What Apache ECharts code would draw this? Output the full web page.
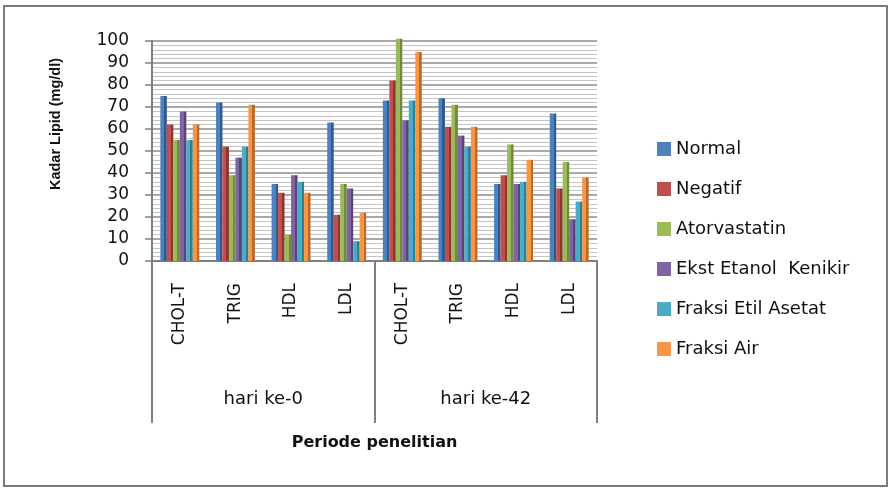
<!DOCTYPE html>
<html>
<head>
<meta charset="utf-8">
<script src="https://cdn.jsdelivr.net/npm/echarts@6/dist/echarts.min.js"></script>
<style>
html,body{margin:0;padding:0;background:#fff;}
#c{position:absolute;left:0;top:0;width:892px;height:494px;}
#frame{position:absolute;left:3px;top:5px;width:881px;height:478px;border:2px solid #7a7a7a;pointer-events:none;}
</style>
</head>
<body>
<div id="c"></div>
<div id="frame"></div>
<script>
var categories = ['CHOL-T','TRIG','HDL','LDL','CHOL-T','TRIG','HDL','LDL'];
var groups = ['hari ke-0','hari ke-42'];
var seriesNames = ['Normal','Negatif','Atorvastatin','Ekst Etanol  Kenikir','Fraksi Etil Asetat','Fraksi Air'];
var normal       = [75, 72, 35, 63, 73, 74, 35, 67];
var negatif      = [62, 52, 31, 21, 82, 61, 39, 33];
var atorvastatin = [55, 39, 12, 35, 101, 71, 53, 45];
var ekstEtanol   = [68, 47, 39, 33, 64, 57, 35, 19];
var fraksiEtil   = [55, 52, 36, 9, 73, 52, 36, 27];
var fraksiAir    = [62, 71, 31, 22, 95, 61, 46, 38];
var yTicks = {min: 0, max: 100, interval: 10};

var baseColors = ['#4F81BD','#C0504D','#9BBB59','#8064A2','#4BACC6','#F79646'];
var darkColors = ['#2f5a8f','#8e3532','#6f8a3a','#5a4477','#2f7f95','#b86a2a'];
var allValues = [normal, negatif, atorvastatin, ekstEtanol, fraksiEtil, fraksiAir];

var FONT = 'DejaVu Sans';
var chart = echarts.init(document.getElementById('c'));

var series = allValues.map(function (vals, i) {
  return {
    name: seriesNames[i],
    type: 'bar',
    xAxisIndex: 0,
    data: vals,
    clip: false,
    barGap: '0%',
    barCategoryGap: '30%',
    itemStyle: {
      color: new echarts.graphic.LinearGradient(0, 0, 1, 0, [
        {offset: 0, color: baseColors[i]},
        {offset: 0.62, color: baseColors[i]},
        {offset: 0.62, color: darkColors[i]},
        {offset: 1, color: darkColors[i]}
      ])
    }
  };
});

chart.setOption({
  animation: false,
  textStyle: {fontFamily: FONT},
  grid: {left: 152, right: 295, top: 41, bottom: 233},
  legend: {
    orient: 'vertical',
    left: 652,
    top: 135,
    itemWidth: 14,
    itemHeight: 14,
    itemGap: 22,
    icon: 'rect',
    textStyle: {fontFamily: FONT, fontSize: 18, color: '#111'},
    data: seriesNames.map(function (n, i) { return {name: n, itemStyle: {color: baseColors[i]}}; })
  },
  xAxis: [
    {
      type: 'category',
      data: categories,
      position: 'bottom',
      axisLine: {show: true, lineStyle: {color: '#808080', width: 2}},
      axisTick: {show: false},
      axisLabel: {rotate: 90, margin: 22, fontSize: 17, color: '#111', fontFamily: FONT},
      splitLine: {show: false}
    },
    {
      type: 'category',
      data: groups,
      position: 'bottom',
      axisLine: {show: false},
      axisTick: {show: true, length: 162, lineStyle: {color: '#808080', width: 2}},
      axisLabel: {margin: 129, fontSize: 18, color: '#111', fontFamily: FONT},
      name: 'Periode penelitian',
      nameLocation: 'middle',
      nameGap: 174,
      nameTextStyle: {fontSize: 16, fontWeight: 'bold', color: '#111', fontFamily: FONT}
    }
  ],
  yAxis: {
    type: 'value',
    min: yTicks.min,
    max: yTicks.max,
    interval: yTicks.interval,
    axisLine: {show: true, lineStyle: {color: '#808080', width: 2}},
    axisTick: {show: true, length: 7, lineStyle: {color: '#808080', width: 1.5}},
    axisLabel: {fontSize: 17, color: '#111', margin: 23, fontFamily: FONT},
    splitLine: {show: true, lineStyle: {color: '#8c8c8c', width: 1.5}},
    minorTick: {show: false, splitNumber: 5},
    minorSplitLine: {show: true, lineStyle: {color: '#c4c4c4', width: 1}}
  },
  graphic: [
    {
      type: 'text',
      x: 56,
      y: 124,
      rotation: Math.PI / 2,
      style: {text: 'Kadar Lipid (mg/dl)', fontFamily: 'Liberation Sans', fontWeight: 'bold', fontSize: 14.5, fill: '#111', align: 'center', verticalAlign: 'middle'}
    }
  ],
  series: series
});
</script>
</body>
</html>
